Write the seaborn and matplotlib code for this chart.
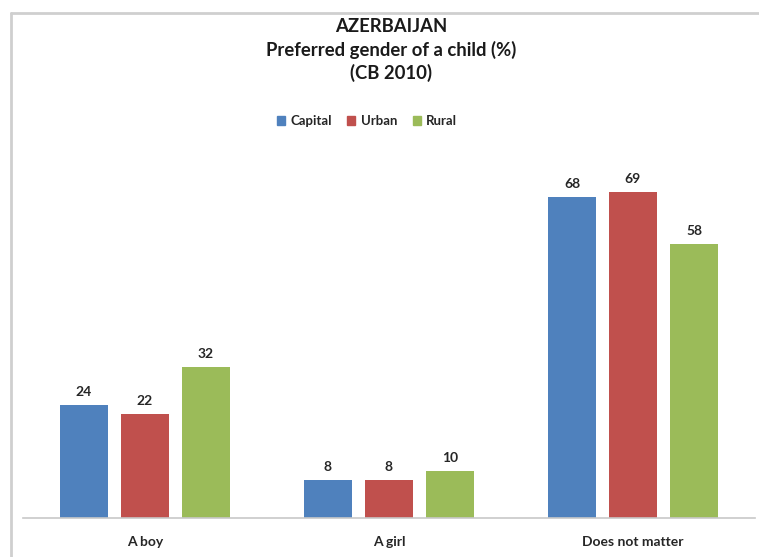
import matplotlib
matplotlib.use("Agg")
import matplotlib.pyplot as plt
from matplotlib.lines import Line2D
import seaborn as sns
import pandas as pd

categories = ["A boy", "A girl", "Does not matter"]
series_names = ["Capital", "Urban", "Rural"]
capital = [24, 8, 68]
urban = [22, 8, 69]
rural = [32, 10, 58]
colors = ["#4F81BD", "#C0504D", "#9BBB59"]

df = pd.DataFrame({
    "answer": categories * 3,
    "area": [s for s in series_names for _ in categories],
    "value": capital + urban + rural,
})

sns.set_theme(style="white")
plt.rcParams["font.family"] = ["Lato", "DejaVu Sans"]

fig = plt.figure(figsize=(7.59, 5.57), dpi=100)
ax = fig.add_axes([0.0303, 0.070, 0.9644, 0.679])

sns.barplot(data=df, x="answer", y="value", hue="area", hue_order=series_names,
            order=categories, palette=colors, width=0.75, gap=0.2,
            saturation=1, errorbar=None, legend=False, linewidth=0, ax=ax)

for cont in ax.containers:
    ax.bar_label(cont, fmt="%d", padding=5, fontsize=10, fontweight="bold",
                 color="#262626")

ax.set_ylim(0, 80)
ax.set_xlim(-0.5, 2.5)
ax.set_yticks([])
ax.set_xlabel("")
ax.set_ylabel("")
for side in ["top", "right", "left"]:
    ax.spines[side].set_visible(False)
ax.spines["bottom"].set_color("#C8C8C8")
ax.spines["bottom"].set_linewidth(1.2)
ax.tick_params(axis="x", length=0, pad=13, labelsize=10, labelcolor="#262626")
for lbl in ax.get_xticklabels():
    lbl.set_fontweight("bold")

# Title block
title_x = 391 / 759
title_kw = dict(ha="center", va="center", fontsize=13.3, fontweight="bold",
                color="#1a1a1a")
fig.text(title_x, 1 - 27 / 557, "AZERBAIJAN", **title_kw)
fig.text(title_x, 1 - 50 / 557, "Preferred gender of a child (%)", **title_kw)
fig.text(title_x, 1 - 73 / 557, "(CB 2010)", **title_kw)

# Legend
handles = [plt.Rectangle((0, 0), 1, 1, color=c) for c in colors]
fig.legend(handles, series_names, loc="center",
           bbox_to_anchor=(367 / 759, 1 - 121 / 557),
           ncol=3, frameon=False, handlelength=0.6, handleheight=0.6,
           handletextpad=0.4, columnspacing=1.2,
           prop={"size": 9.5, "weight": "bold"}, labelcolor="#262626")

# Chart area frame (left and top edges)
fig.add_artist(Line2D([11 / 759, 11 / 759], [0, 1 - 13 / 557],
                      transform=fig.transFigure, color="#CFCFCF", linewidth=2))
fig.add_artist(Line2D([11 / 759, 1], [1 - 13 / 557, 1 - 13 / 557],
                      transform=fig.transFigure, color="#CFCFCF", linewidth=2))

fig.savefig("out.png", dpi=100)
